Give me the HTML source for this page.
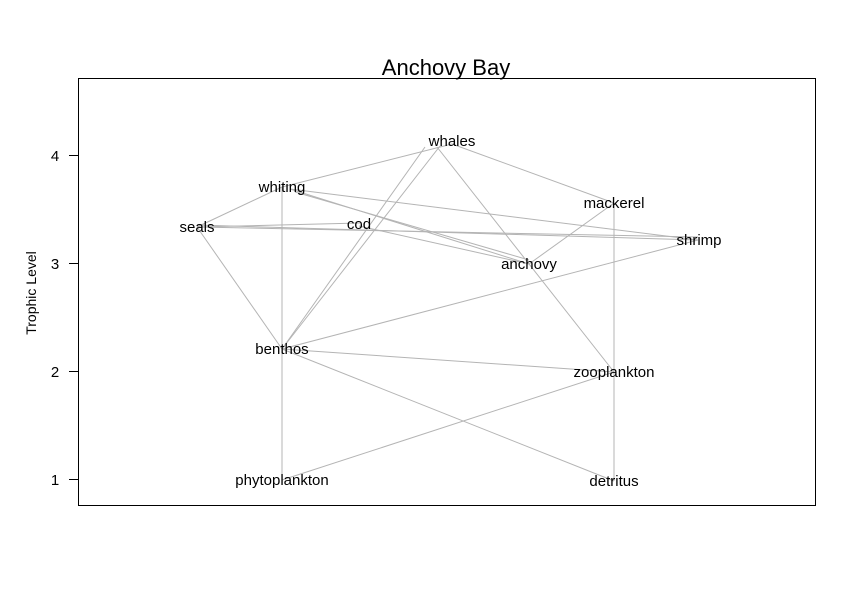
<!DOCTYPE html>
<html><head><style>body{margin:0;background:#fff}</style></head><body>
<svg width="856" height="604" xmlns="http://www.w3.org/2000/svg" font-family="Liberation Sans, Arial, sans-serif">
<rect width="856" height="604" fill="#fff"/>
<text x="446" y="75" font-size="22" text-anchor="middle">Anchovy Bay</text>
<rect x="78.5" y="78.5" width="737" height="427" fill="none" stroke="#000"/>
<g stroke="#000"><line x1="69" y1="155.5" x2="78" y2="155.5"/><line x1="69" y1="263.5" x2="78" y2="263.5"/><line x1="69" y1="371.5" x2="78" y2="371.5"/><line x1="69" y1="479.5" x2="78" y2="479.5"/></g>
<g font-size="15" text-anchor="middle"><text x="55" y="161">4</text><text x="55" y="269">3</text><text x="55" y="377">2</text><text x="55" y="485">1</text></g>
<text transform="translate(36,293) rotate(-90)" font-size="14" text-anchor="middle">Trophic Level</text>
<g stroke="#b4b4b4" stroke-width="1" fill="none">
<line x1="452" y1="144" x2="282" y2="187"/>
<line x1="452" y1="144" x2="614" y2="203"/>
<line x1="425" y1="147" x2="282" y2="349"/>
<line x1="440" y1="146" x2="282" y2="349"/>
<line x1="437" y1="147" x2="614" y2="372"/>
<line x1="282" y1="187" x2="197" y2="227"/>
<line x1="282" y1="187" x2="282" y2="480"/>
<line x1="290" y1="189" x2="698" y2="240"/>
<line x1="290" y1="189" x2="529" y2="264"/>
<line x1="295" y1="192" x2="529" y2="260"/>
<line x1="359" y1="226" x2="529" y2="264"/>
<line x1="197" y1="225" x2="698" y2="240"/>
<line x1="197" y1="227" x2="698" y2="237"/>
<line x1="197" y1="227" x2="360" y2="223"/>
<line x1="197" y1="227" x2="282" y2="349"/>
<line x1="614" y1="203" x2="529" y2="264"/>
<line x1="614" y1="203" x2="614" y2="481"/>
<line x1="698" y1="240" x2="282" y2="349"/>
<line x1="282" y1="349" x2="614" y2="372"/>
<line x1="282" y1="349" x2="614" y2="481"/>
<line x1="282" y1="480" x2="614" y2="372"/>
</g>
<g font-size="15" text-anchor="middle">
<text x="452" y="146">whales</text>
<text x="282" y="192">whiting</text>
<text x="614" y="208">mackerel</text>
<text x="197" y="232">seals</text>
<text x="359" y="229">cod</text>
<text x="699" y="245">shrimp</text>
<text x="529" y="269">anchovy</text>
<text x="282" y="354">benthos</text>
<text x="614" y="377">zooplankton</text>
<text x="282" y="485">phytoplankton</text>
<text x="614" y="486">detritus</text>
</g>
</svg>
</body></html>
